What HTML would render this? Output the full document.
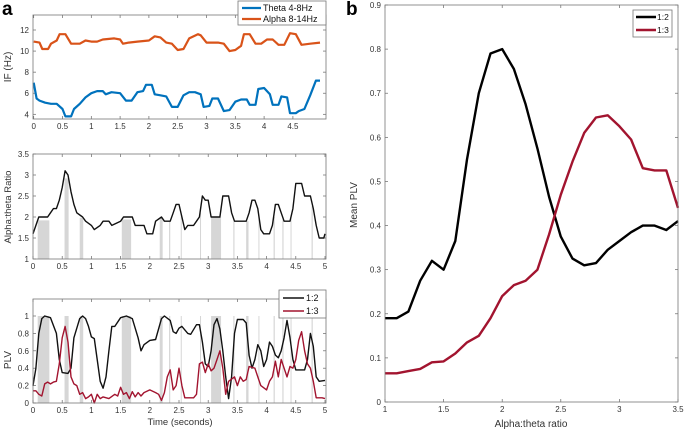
<!DOCTYPE html>
<html><head><meta charset="utf-8"><style>
body{margin:0;background:#fff;}
svg{display:block;font-family:"Liberation Sans",sans-serif;}
</style></head><body>
<svg id="fig" width="685" height="432" viewBox="0 0 685 432" xmlns="http://www.w3.org/2000/svg"></svg>
<script>
// ---- Panel a1 data: instantaneous frequency ----
const thetaT=[0,0.05,0.1,0.2,0.3,0.4,0.5,0.55,0.65,0.7,0.8,0.9,1.0,1.1,1.2,1.25,1.35,1.5,1.6,1.7,1.8,1.9,1.95,2.05,2.1,2.2,2.3,2.4,2.5,2.6,2.7,2.8,2.9,2.95,3.05,3.1,3.2,3.3,3.4,3.5,3.6,3.7,3.75,3.85,3.9,4.0,4.1,4.15,4.25,4.3,4.4,4.45,4.55,4.6,4.7,4.8,4.9,4.97];
const thetaV=[7,5.5,5.3,5.1,5.0,5.0,4.5,3.8,3.8,4.5,5,5.6,6.0,6.2,6.2,5.9,6.1,6.0,5.3,5.3,6.1,6.2,6.8,6.8,5.9,5.8,5.7,4.7,4.7,5.8,6.1,6.1,5.9,4.7,4.8,5.5,5.5,4.3,4.4,5.2,5.4,5.4,4.9,4.9,6.4,6.5,5.9,4.9,4.9,5.7,5.6,4.1,4.1,4.3,4.5,5.8,7.2,7.2];
const alphaT=[0,0.1,0.15,0.25,0.3,0.4,0.45,0.55,0.65,0.8,0.9,1.0,1.1,1.2,1.4,1.5,1.55,1.65,1.8,2.0,2.1,2.2,2.3,2.4,2.5,2.6,2.7,2.85,2.9,3.0,3.2,3.3,3.4,3.5,3.6,3.65,3.75,3.85,3.95,4.05,4.15,4.25,4.35,4.45,4.55,4.65,4.8,4.97];
const alphaV=[10.9,10.8,10.2,10.2,10.7,11.0,11.6,11.6,10.7,10.7,11.0,10.9,10.9,11.1,11.2,11.1,10.7,10.8,10.9,11.0,11.4,11.3,10.8,10.7,10.1,10.2,11.2,11.6,11.5,10.8,10.8,10.7,10.0,10.1,10.5,11.6,11.6,10.7,10.7,11.1,11.1,10.6,10.6,11.7,11.6,10.6,10.7,10.8];
// ---- Panel a2 data: ratio ----
const ratioT=[0,0.05,0.1,0.2,0.25,0.3,0.35,0.4,0.45,0.5,0.55,0.6,0.65,0.7,0.75,0.85,0.9,1.0,1.05,1.15,1.2,1.3,1.35,1.5,1.55,1.7,1.75,1.9,1.95,2.05,2.1,2.2,2.25,2.35,2.4,2.45,2.5,2.55,2.6,2.65,2.75,2.8,2.85,2.9,2.95,3.0,3.05,3.2,3.25,3.35,3.4,3.45,3.65,3.7,3.75,3.8,3.85,3.9,3.95,4.05,4.1,4.15,4.2,4.25,4.3,4.4,4.45,4.5,4.6,4.65,4.75,4.8,4.85,4.9,4.98,5.0];
const ratioV=[1.6,1.8,2.0,2.0,2.0,2.1,2.2,2.2,2.4,2.7,3.1,3.0,2.6,2.3,2.1,2.0,1.9,1.8,1.7,1.8,1.9,1.9,1.8,1.9,2.0,2.0,1.8,1.8,1.6,1.6,1.9,2.0,1.9,1.9,2.1,2.3,2.3,2.0,1.7,1.8,1.8,1.9,2.0,2.5,2.4,2.4,2.0,2.0,2.5,2.5,2.1,1.9,1.9,2.1,2.4,2.4,2.2,1.7,1.6,1.6,1.8,2.3,2.3,2.1,1.9,1.9,2.2,2.8,2.8,2.5,2.5,2.2,1.8,1.5,1.5,1.6];
const bandStart=[0.08,0.54,0.8,1.52,2.17,2.33,2.53,2.86,3.05,3.43,3.65,3.86,4.12,4.27,4.41,4.77];
const bandEnd=[0.28,0.61,0.86,1.68,2.22,2.35,2.54,2.87,3.22,3.45,3.69,3.87,4.14,4.29,4.42,4.79];
// ---- Panel a3 data: PLV ----
const plv2T=[0,0.05,0.1,0.15,0.2,0.3,0.4,0.45,0.5,0.6,0.65,0.7,0.8,0.85,0.9,0.95,1.0,1.05,1.1,1.15,1.2,1.25,1.3,1.35,1.4,1.5,1.6,1.7,1.8,1.85,1.9,2.0,2.1,2.2,2.25,2.35,2.4,2.45,2.5,2.55,2.65,2.7,2.8,2.85,2.9,2.95,3.0,3.05,3.1,3.15,3.2,3.25,3.3,3.35,3.4,3.45,3.5,3.6,3.65,3.7,3.75,3.8,3.85,3.9,3.95,4.0,4.05,4.1,4.15,4.2,4.25,4.3,4.35,4.4,4.45,4.5,4.65,4.7,4.75,4.8,4.85,4.9,5.0];
const plv2V=[0.2,0.4,0.8,0.97,1.0,0.98,0.8,0.5,0.35,0.34,0.4,0.75,0.97,1.0,0.97,0.88,0.76,0.74,0.5,0.25,0.17,0.3,0.6,0.88,0.88,0.98,1.0,0.97,0.75,0.6,0.67,0.72,0.73,0.97,1.0,0.95,0.82,0.8,0.86,0.88,0.8,0.79,0.9,0.9,0.7,0.45,0.42,0.6,0.9,0.97,0.85,0.6,0.3,0.05,0.3,0.8,0.96,0.96,0.92,0.55,0.4,0.5,0.67,0.6,0.42,0.5,0.7,0.65,0.55,0.52,0.6,0.75,0.95,0.75,0.5,0.38,0.38,0.5,0.8,0.65,0.3,0.25,0.26];
const plv3T=[0,0.05,0.1,0.15,0.2,0.25,0.3,0.35,0.4,0.45,0.5,0.55,0.6,0.65,0.7,0.75,0.8,0.85,0.9,0.95,1.0,1.05,1.1,1.15,1.2,1.3,1.4,1.45,1.5,1.55,1.6,1.65,1.7,1.75,1.8,1.85,1.9,2.0,2.1,2.15,2.2,2.25,2.3,2.35,2.4,2.45,2.5,2.55,2.6,2.75,2.8,2.85,2.9,2.95,3.0,3.05,3.1,3.15,3.2,3.25,3.3,3.35,3.45,3.5,3.55,3.6,3.65,3.7,3.8,3.85,3.9,4.0,4.05,4.1,4.15,4.2,4.25,4.3,4.35,4.4,4.45,4.5,4.55,4.6,4.65,4.7,4.75,4.8,4.85,4.95,5.0];
const plv3V=[0.14,0.14,0.1,0.08,0.22,0.24,0.22,0.24,0.25,0.45,0.75,0.88,0.7,0.3,0.22,0.2,0.1,0.12,0.05,0.07,0.1,0.0,0.1,0.05,0.07,0.05,0.1,0.08,0.18,0.1,0.12,0.05,0.13,0.07,0.12,0.08,0.12,0.15,0.12,0.1,0.03,0.12,0.3,0.38,0.15,0.2,0.4,0.2,0.06,0.06,0.1,0.45,0.47,0.35,0.45,0.37,0.4,0.5,0.6,0.4,0.1,0.25,0.3,0.2,0.3,0.25,0.27,0.42,0.4,0.3,0.2,0.15,0.25,0.3,0.48,0.3,0.5,0.4,0.3,0.42,0.4,0.5,0.72,0.82,0.6,0.45,0.4,0.25,0.06,0.06,0.05];
// ---- Panel b data ----
const ratioBins=[1,1.1,1.2,1.3,1.4,1.5,1.6,1.7,1.8,1.9,2.0,2.1,2.2,2.3,2.4,2.5,2.6,2.7,2.8,2.9,3.0,3.1,3.2,3.3,3.4,3.5];
const mean12=[0.19,0.19,0.205,0.275,0.32,0.30,0.365,0.55,0.70,0.79,0.80,0.755,0.675,0.575,0.465,0.375,0.325,0.31,0.315,0.345,0.365,0.385,0.40,0.40,0.39,0.41];
const mean13=[0.065,0.065,0.07,0.075,0.09,0.092,0.11,0.135,0.15,0.19,0.24,0.265,0.275,0.30,0.38,0.47,0.545,0.61,0.645,0.65,0.625,0.595,0.53,0.525,0.525,0.44];
const ticksA1x=[0,0.5,1,1.5,2,2.5,3,3.5,4,4.5];
const ticksA1y=[4,6,8,10,12];
const ticksA2x=[0,0.5,1,1.5,2,2.5,3,3.5,4,4.5,5];
const ticksA2y=[1,1.5,2,2.5,3,3.5];
const ticksA3y=[0,0.2,0.4,0.6,0.8,1];
const ticksBx=[1,1.5,2,2.5,3,3.5];
const ticksBy=[0,0.1,0.2,0.3,0.4,0.5,0.6,0.7,0.8,0.9];

const NS="http://www.w3.org/2000/svg";
const svg=document.getElementById('fig');
function mk(tag,attrs,parent,text){const e=document.createElementNS(NS,tag);for(const k in attrs)e.setAttribute(k,attrs[k]);if(text!==undefined)e.textContent=text;(parent||svg).appendChild(e);return e;}
function scale(d0,d1,r0,r1){return v=>r0+(v-d0)/(d1-d0)*(r1-r0);}
function fmt(v){return String(+v.toFixed(2));}
function interp(T,V,t){for(let i=1;i<T.length;i++){if(t<=T[i]){const f=(t-T[i-1])/(T[i]-T[i-1]||1);return V[i-1]+f*(V[i]-V[i-1]);}}return V[V.length-1];}

function axes(name,L,T,R,B,sx,sy,xt,yt){
  const g=mk('g',{});
  
  
  xt.forEach(v=>{const x=sx(v);
    mk('line',{x1:x,x2:x,y1:B,y2:B-3,stroke:'#666','stroke-width':0.7},g);
    mk('line',{x1:x,x2:x,y1:T,y2:T+3,stroke:'#666','stroke-width':0.7},g);
    const t=mk('text',{x:x,y:B+10,'font-size':8,fill:'#333','text-anchor':'middle'},g,fmt(v));
    
    
  });
  yt.forEach(v=>{const y=sy(v);
    mk('line',{x1:L,x2:L+3,y1:y,y2:y,stroke:'#666','stroke-width':0.7},g);
    mk('line',{x1:R,x2:R-3,y1:y,y2:y,stroke:'#666','stroke-width':0.7},g);
    const t=mk('text',{x:L-4,y:y+3,'font-size':8,fill:'#333','text-anchor':'end'},g,fmt(v));
    
    
  });
  return g;
}
function frame(L,T,R,B){mk('rect',{x:L,y:T,width:R-L,height:B-T,fill:'none',stroke:'#777','stroke-width':0.8});}
function line(T,V,sx,sy,color,w,name){
  const p=T.map((t,i)=>sx(t).toFixed(1)+','+sy(V[i]).toFixed(1)).join(' ');
  const e=mk('polyline',{points:p,fill:'none',stroke:color,'stroke-width':w,'stroke-linejoin':'round'});
  
  
}
function bands(sx,topFn,B,name){
  bandStart.forEach((s,i)=>{
    const top=topFn(s,bandEnd[i]);
    const r=mk('rect',{x:sx(s),y:top,width:Math.max(1,sx(bandEnd[i])-sx(s)),height:B-top,fill:'#d6d6d6'});
    
    
  });
}
function ytitle(x,y,txt,name,size){const t=mk('text',{x:x,y:y,'font-size':size||10,fill:'#333','text-anchor':'middle',transform:`rotate(-90 ${x} ${y})`},svg,txt);
  }

let pa=mk('text',{x:2,y:15,'font-size':19,'font-weight':'bold',fill:'#000'},svg,'a');

let pb=mk('text',{x:346,y:15,'font-size':19,'font-weight':'bold',fill:'#000'},svg,'b');


// A1
{const L=33,T=15,R=326,B=119;
 const sx=scale(0,5,33.7,321.7), sy=scale(4,12,114.3,30);
 axes('if',L,T,R,B,sx,sy,ticksA1x,ticksA1y);
 line(thetaT,thetaV,sx,sy,'#0072BD',2.2,'theta-line');
 line(alphaT,alphaV,sx,sy,'#D95319',2.2,'alpha-line');
 frame(L,T,R,B);
 ytitle(11,67,'IF (Hz)','if-y-axis-title');
 const lg=mk('g',{});
 mk('rect',{x:238,y:1,width:88,height:24,fill:'#fff',stroke:'#777','stroke-width':0.8},lg);
 mk('line',{x1:242,x2:261,y1:8,y2:8,stroke:'#0072BD','stroke-width':2.2},lg);
 mk('line',{x1:242,x2:261,y1:19,y2:19,stroke:'#D95319','stroke-width':2.2},lg);
 let e=mk('text',{x:263,y:11,'font-size':9,fill:'#111'},lg,'Theta 4-8Hz');
 e=mk('text',{x:263,y:22,'font-size':9,fill:'#111'},lg,'Alpha 8-14Hz');
}
// A2
{const L=33,T=154,R=326,B=259;
 const sx=scale(0,5,33,325), sy=scale(1,3.5,259,154);
 bands(sx,(s,e)=>sy(Math.min(interp(ratioT,ratioV,s),interp(ratioT,ratioV,e))),B,'ratio-band');
 axes('ratio',L,T,R,B,sx,sy,ticksA2x,ticksA2y);
 line(ratioT,ratioV,sx,sy,'#111',1.4,'ratio-line');
 frame(L,T,R,B);
 ytitle(11,207,'Alpha:theta Ratio','ratio-y-axis-title',9.5);
}
// A3
{const L=33,T=299,R=326,B=403;
 const sx=scale(0,5,33,325), sy=scale(0,1,403,316);
 bands(sx,()=>sy(1),B,'plv-band');
 axes('plv',L,T,R,B,sx,sy,ticksA2x,ticksA3y);
 line(plv2T,plv2V,sx,sy,'#111',1.4,'plv-1-2-line');
 line(plv3T,plv3V,sx,sy,'#A2142F',1.4,'plv-1-3-line');
 frame(L,T,R,B);
 ytitle(11,360,'PLV','plv-y-axis-title');
 let t=mk('text',{x:180,y:425,'font-size':9.5,fill:'#333','text-anchor':'middle'},svg,'Time (seconds)');
 
 const lg=mk('g',{});
 mk('rect',{x:279,y:290,width:47,height:28,fill:'#fff',stroke:'#777','stroke-width':0.8},lg);
 mk('line',{x1:283,x2:304,y1:298,y2:298,stroke:'#111','stroke-width':1.4},lg);
 mk('line',{x1:283,x2:304,y1:311,y2:311,stroke:'#A2142F','stroke-width':1.4},lg);
 let e=mk('text',{x:306,y:301,'font-size':9,fill:'#111'},lg,'1:2');
 e=mk('text',{x:306,y:314,'font-size':9,fill:'#111'},lg,'1:3');
}
// B
{const L=385,T=5,R=678,B=402;
 const sx=scale(1,3.5,385,678), sy=scale(0,0.9,402,5);
 axes('mean-plv',L,T,R,B,sx,sy,ticksBx,ticksBy);
 line(ratioBins,mean12,sx,sy,'#000',2.4,'mean-plv-1-2-line');
 line(ratioBins,mean13,sx,sy,'#A2142F',2.4,'mean-plv-1-3-line');
 frame(L,T,R,B);
 ytitle(357,205,'Mean PLV','mean-plv-y-axis-title');
 let t=mk('text',{x:531,y:427,'font-size':10,fill:'#333','text-anchor':'middle'},svg,'Alpha:theta ratio');
 
 const lg=mk('g',{});
 mk('rect',{x:633,y:10,width:39,height:27,fill:'#fff',stroke:'#777','stroke-width':0.8},lg);
 mk('line',{x1:636,x2:656,y1:17,y2:17,stroke:'#000','stroke-width':2.4},lg);
 mk('line',{x1:636,x2:656,y1:30,y2:30,stroke:'#A2142F','stroke-width':2.4},lg);
 let e=mk('text',{x:657,y:20,'font-size':8.5,fill:'#111'},lg,'1:2');
 e=mk('text',{x:657,y:33,'font-size':8.5,fill:'#111'},lg,'1:3');
}
</script>
</body></html>
